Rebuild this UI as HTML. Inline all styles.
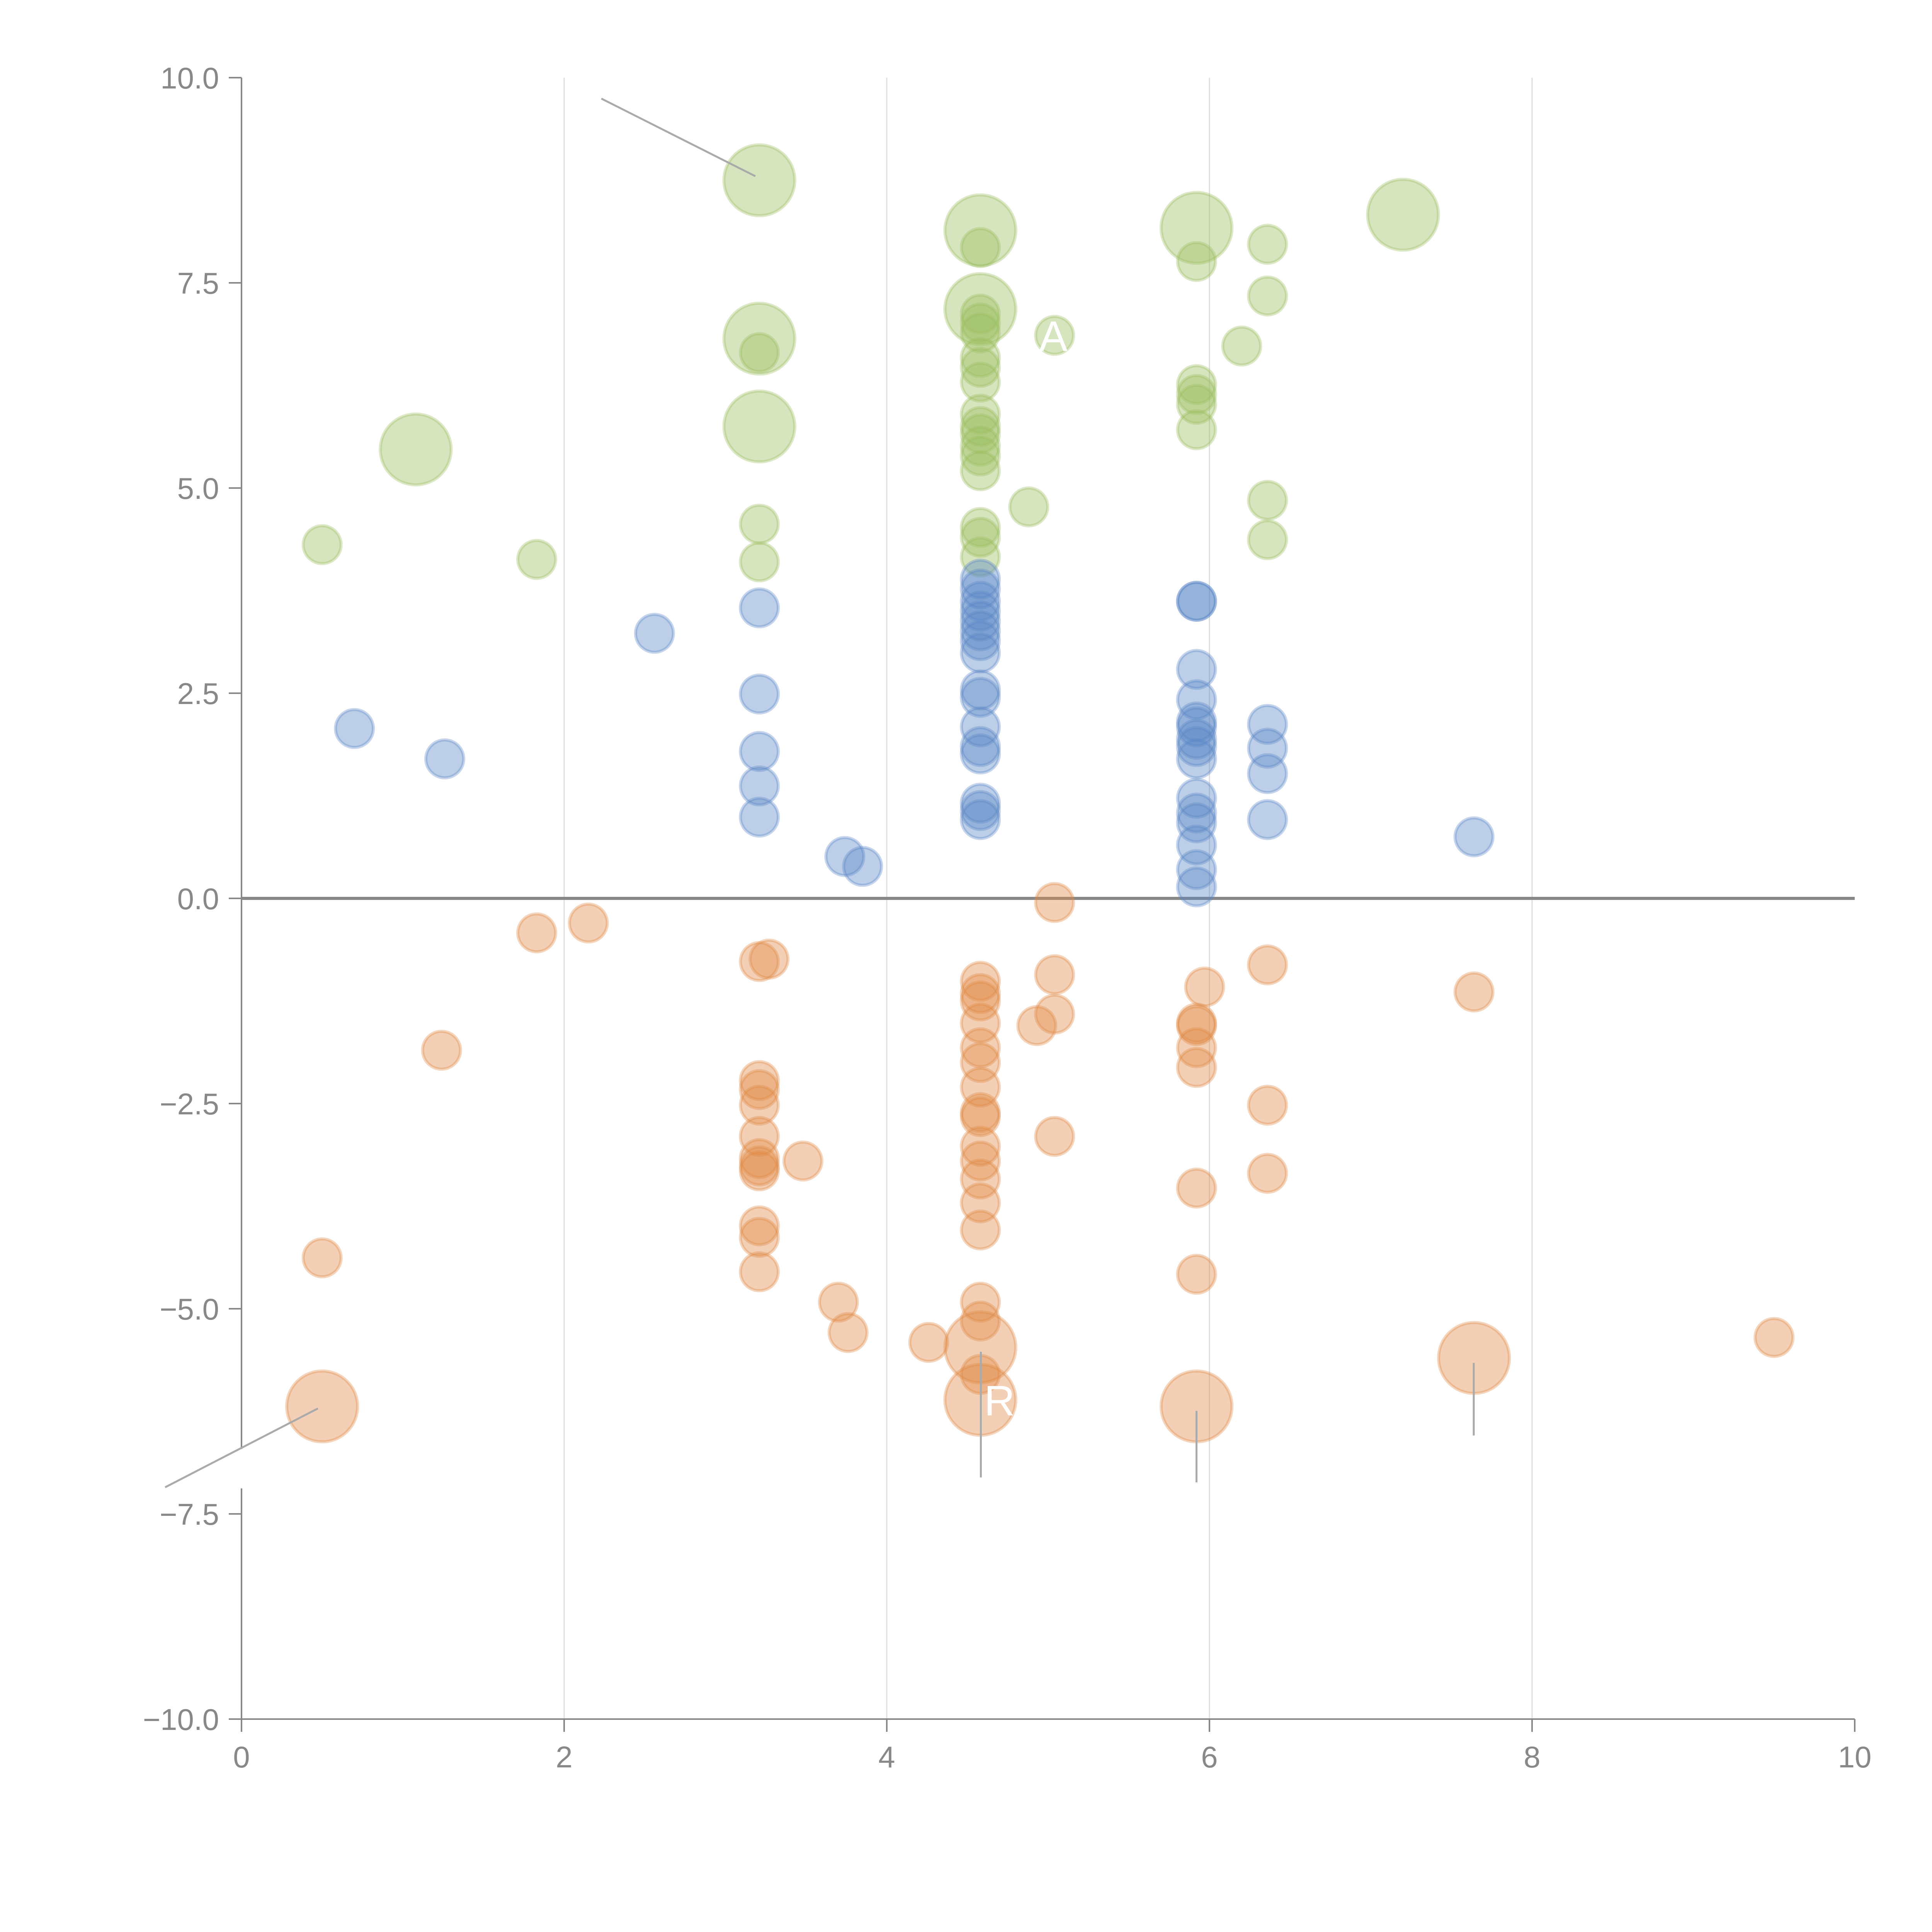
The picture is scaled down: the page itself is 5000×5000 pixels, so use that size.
<!DOCTYPE html>
<html><head><meta charset="utf-8"><style>
html,body{margin:0;padding:0;background:#fff;}
svg{display:block;}
text{font-family:"Liberation Sans",sans-serif;}
</style></head><body>
<svg id="chart" width="5000" height="5000" viewBox="0 0 5000 5000" xmlns="http://www.w3.org/2000/svg">
<g id="grid"></g>
<g id="axes"></g>
<g id="marks"></g>
<g id="annot"></g>
</svg>
<script>
const xTicks=[0,2,4,6,8,10];
const yTicks=[-10,-7.5,-5,-2.5,0,2.5,5,7.5,10];
const yTickLabels=["\u221210.0","\u22127.5","\u22125.0","\u22122.5","0.0","2.5","5.0","7.5","10.0"];
const greenX=[0.5,1.83,1.08,3.21,3.21,3.21,3.21,3.21,3.21,4.58,4.58,4.58,4.58,4.58,4.58,4.58,4.58,4.58,4.58,4.58,4.58,4.58,4.58,4.58,4.58,4.58,4.58,5.04,4.88,5.92,5.92,5.92,5.92,5.92,5.92,6.20,6.36,6.36,6.36,6.36,7.20];
const greenY=[4.31,4.13,5.47,8.75,6.82,6.65,5.75,4.56,4.10,8.14,7.93,7.18,7.12,7.01,6.89,6.59,6.47,6.29,5.90,5.75,5.66,5.51,5.39,5.21,4.52,4.40,4.16,6.86,4.77,8.17,7.76,6.26,6.14,6.02,5.71,6.73,7.97,7.34,4.85,4.37,8.33];
const greenS=[1,1,3.5,3.5,3.5,1,3.5,1,1,3.5,1,3.5,1,1,1,1,1,1,1,1,1,1,1,1,1,1,1,1,1,3.5,1,1,1,1,1,1,1,1,1,1,3.5];
const blueX=[0.70,1.26,2.56,3.21,3.21,3.21,3.21,3.21,3.74,3.85,4.58,4.58,4.58,4.58,4.58,4.58,4.58,4.58,4.58,4.58,4.58,4.58,4.58,4.58,4.58,4.58,5.92,5.92,5.92,5.92,5.92,5.92,5.92,5.92,5.92,5.92,5.92,5.92,5.92,5.92,5.92,6.36,6.36,6.36,6.36,7.64];
const blueY=[2.07,1.70,3.23,3.54,2.49,1.79,1.37,0.99,0.51,0.39,3.89,3.77,3.62,3.50,3.38,3.26,3.14,2.99,2.54,2.45,2.09,1.85,1.76,1.16,1.07,0.96,3.62,3.62,2.79,2.42,2.15,2.09,1.94,1.85,1.70,1.22,1.04,0.92,0.65,0.35,0.14,2.12,1.83,1.52,0.96,0.75];
const orangeX=[0.5,0.5,1.24,1.83,2.15,3.21,3.27,3.21,3.21,3.21,3.21,3.21,3.21,3.21,3.21,3.21,3.21,3.48,3.70,3.76,4.26,4.58,4.58,4.58,4.58,4.58,4.58,4.58,4.58,4.58,4.58,4.58,4.58,4.58,4.58,4.58,4.58,4.58,4.58,4.58,5.04,5.04,5.04,4.93,5.04,5.92,5.92,5.92,5.92,5.92,5.92,5.92,5.97,6.36,6.36,6.36,7.64,7.64,9.50];
const orangeY=[-4.38,-6.19,-1.85,-0.42,-0.30,-0.77,-0.74,-2.22,-2.33,-2.52,-2.90,-3.17,-3.26,-3.32,-3.99,-4.13,-4.55,-3.20,-4.92,-5.29,-5.41,-1.01,-1.16,-1.25,-1.52,-1.82,-2.00,-2.30,-2.61,-2.66,-3.02,-3.20,-3.42,-3.71,-4.04,-4.92,-5.15,-5.80,-5.47,-6.11,-0.05,-0.93,-1.41,-1.55,-2.90,-1.52,-1.55,-1.82,-2.06,-3.53,-4.58,-6.19,-1.08,-0.81,-2.52,-3.35,-1.14,-5.60,-5.35];
const orangeS=[1,3.5,1,1,1,1,1,1,1,1,1,1,1,1,1,1,1,1,1,1,1,1,1,1,1,1,1,1,1,1,1,1,1,1,1,1,1,1,3.5,3.5,1,1,1,1,1,1,1,1,1,1,1,3.5,1,1,1,1,1,3.5,1];

const NS="http://www.w3.org/2000/svg";
const X0=625,X1=4800,Y0=4449,Y1=201;
function sx(v){return X0+(v-0)/(10-0)*(X1-X0);}
function sy(v){return Y0-(v+10)/20*(Y0-Y1);}
function rad(s){return 49*Math.sqrt(s);}
function el(tag,attrs,parent){const e=document.createElementNS(NS,tag);for(const k in attrs)e.setAttribute(k,attrs[k]);parent.appendChild(e);return e;}
const grid=document.getElementById('grid'),axes=document.getElementById('axes'),marks=document.getElementById('marks'),annot=document.getElementById('annot');

xTicks.forEach(t=>{
  if(t>0&&t<10){const g=el('line',{x1:sx(t),x2:sx(t),y1:Y1,y2:Y0,stroke:'#dcdcdc','stroke-width':3},grid);
  
  }
  const tk=el('line',{x1:sx(t),x2:sx(t),y1:Y0,y2:Y0+33,stroke:'#888','stroke-width':4},axes);
  
  
  const tx=el('text',{x:sx(t),y:Y0+125,'text-anchor':'middle','font-size':78,fill:'#888'},axes);
  tx.textContent=String(t);
  
  
});
yTicks.forEach((t,i)=>{
  const tk=el('line',{x1:X0-33,x2:X0,y1:sy(t),y2:sy(t),stroke:'#888','stroke-width':4},axes);
  
  
  const tx=el('text',{x:X0-58,y:sy(t)+28,'text-anchor':'end','font-size':78,fill:'#888'},axes);
  tx.textContent=yTickLabels[i];
  
  
});
let a=el('line',{x1:X0,x2:X0,y1:Y1,y2:3750,stroke:'#888','stroke-width':4},axes);


a=el('line',{x1:X0,x2:X0,y1:3852,y2:Y0,stroke:'#888','stroke-width':4},axes);


a=el('line',{x1:X0,x2:X1,y1:Y0,y2:Y0,stroke:'#888','stroke-width':4},axes);


a=el('line',{x1:X0,x2:X1,y1:sy(0),y2:sy(0),stroke:'#888','stroke-width':8},axes);



function series(xs,ys,ss,col,name){
  xs.forEach((x,i)=>{
    const c=el('circle',{cx:sx(x),cy:sy(ys[i]),r:rad(ss?ss[i]:1),fill:col,'fill-opacity':0.4,stroke:col,'stroke-opacity':0.35,'stroke-width':8},marks);
    
    
  });
}
series(greenX,greenY,greenS,'#9cbd5e','green');
series(blueX,blueY,null,'#5b86c5','blue');
series(orangeX,orangeY,orangeS,'#e08a45','orange');

const leaders=[[488,80,613,143],[258,1143,134,1207],[796,1097,796,1199],[971,1145,971,1203],[1196,1106,1196,1165]];
leaders.forEach(l=>{
  const k=3.189;
  const ln=el('line',{x1:l[0]*k,y1:l[1]*k,x2:l[2]*k,y2:l[3]*k,stroke:'#aaa','stroke-width':5},annot);
  
  
});
let t=el('text',{x:sx(5.04)-40,y:sy(6.86)+40,'font-size':110,fill:'#fff'},annot);t.textContent='A';


t=el('text',{x:sx(4.58)+10,y:sy(-6.11)+40,'font-size':110,fill:'#fff'},annot);t.textContent='R';


</script>
</body></html>
